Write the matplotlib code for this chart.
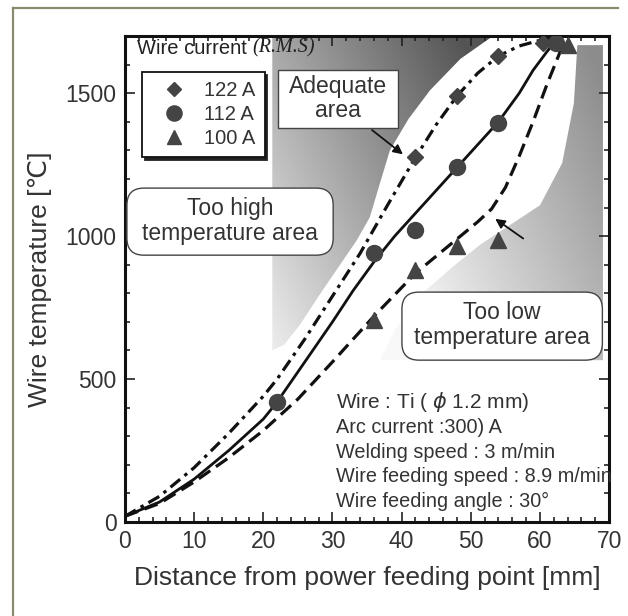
import numpy as np
import matplotlib
matplotlib.use("Agg")
import matplotlib.pyplot as plt
from matplotlib.patches import Polygon, Rectangle, FancyBboxPatch
from matplotlib.lines import Line2D

plt.rcParams['font.family'] = ['Liberation Sans', 'DejaVu Sans']
plt.rcParams['lines.scale_dashes'] = False

# ---------------- data ----------------
dist_122 = [42, 48, 54, 60.5]
temp_122 = [1275, 1490, 1630, 1675]
dist_112 = [22, 36, 42, 48, 54, 62.3]
temp_112 = [420, 940, 1020, 1240, 1395, 1675]
dist_100 = [36, 42, 48, 54, 64]
temp_100 = [705, 880, 965, 985, 1670]

# fitted curves
fit_x_122 = [0, 5, 10, 15, 20, 22, 26, 30, 34, 38, 42, 45, 48, 51, 54, 57, 60, 61.5]
fit_t_122 = [20, 90, 190, 310, 440, 500, 640, 790, 940, 1110, 1275, 1390, 1490, 1570, 1630, 1665, 1685, 1692]
fit_x_112 = [0, 5, 10, 15, 20, 22, 26, 30, 33, 36, 39, 42, 45, 48, 51, 54, 57, 59, 61, 62.5]
fit_t_112 = [20, 70, 150, 250, 360, 420, 560, 700, 810, 910, 1000, 1080, 1160, 1240, 1320, 1400, 1500, 1580, 1645, 1690]
fit_x_100 = [0, 5, 10, 15, 20, 25, 30, 36, 42, 48, 51, 53, 55, 57, 59, 61, 62.5, 63.5]
fit_t_100 = [20, 65, 140, 225, 320, 430, 560, 720, 870, 990, 1050, 1095, 1170, 1280, 1400, 1530, 1620, 1680]

# shaded areas
high_area_x = [21.3, 53.2, 48.5, 44.1, 41.0, 38.3, 36.8, 35.4, 33.5, 31.1, 28.0, 25.3, 23.0, 21.3]
high_area_t = [1700, 1700, 1620, 1510, 1410, 1300, 1180, 1066, 985, 900, 790, 690, 620, 600]
low_area_x = [65.4, 69.1, 69.1, 36.9, 39.0, 42.7, 47.7, 51.3, 55.0, 60.0, 63.2, 64.9, 65.4]
low_area_t = [1668, 1668, 566, 566, 671, 794, 899, 969, 1028, 1108, 1255, 1465, 1668]

labels = ['122 A', '112 A', '100 A']
note_lines = ['Arc current :300) A', 'Welding speed : 3 m/min',
              'Wire feeding speed : 8.9 m/min', 'Wire feeding angle : 30°']

# ---------------- figure ----------------
fig = plt.figure(figsize=(6.28, 6.16), dpi=100)
ax = fig.add_axes([0.199, 0.1526, 0.771, 0.789])
ax.set_xlim(0, 70)
ax.set_ylim(0, 1700)

# gradient backgrounds
gx = np.linspace(0, 70, 400)
gy = np.linspace(0, 1700, 400)
GX, GY = np.meshgrid(gx, gy)
u = np.clip(0.6 * (GX - 21) / 30 + 0.45 * (GY - 600) / 1100, 0, 1)
high_img = 0.93 - 0.6 * u
v = np.clip(0.55 * (GX - 45) / 24 + 0.5 * (GY - 566) / 1100, 0, 1)
low_img = 0.97 - 0.42 * v

for img, px, py in [(high_img, high_area_x, high_area_t), (low_img, low_area_x, low_area_t)]:
    im = ax.imshow(img, extent=[0, 70, 0, 1700], origin='lower', cmap='gray',
                   vmin=0, vmax=1, aspect='auto', zorder=0, interpolation='bilinear')
    poly = Polygon(list(zip(px, py)), closed=True, transform=ax.transData,
                   facecolor='none', edgecolor='none')
    ax.add_patch(poly)
    im.set_clip_path(poly)

ax.set_xlim(0, 70)
ax.set_ylim(0, 1700)

# curves
ax.plot(fit_x_122, fit_t_122, color='#111111', lw=2.3, ls=(0, (9, 4, 2.5, 4)), zorder=3)
ax.plot(fit_x_112, fit_t_112, color='#111111', lw=2.0, ls='-', zorder=3)
ax.plot(fit_x_100, fit_t_100, color='#111111', lw=2.3, ls=(0, (10, 5)), zorder=3)

mc = '#444444'
h1, = ax.plot(dist_122, temp_122, ls='none', marker='D', ms=8, color=mc, zorder=4, label=labels[0])
h2, = ax.plot(dist_112, temp_112, ls='none', marker='o', ms=11.5, color=mc, zorder=4, label=labels[1])
h3, = ax.plot(dist_100, temp_100, ls='none', marker='^', ms=11, color=mc, zorder=4, label=labels[2])

# axes style
for s in ax.spines.values():
    s.set_linewidth(2.2)
    s.set_color('#111111')
ax.set_xticks(np.arange(0, 71, 10))
ax.set_xticks(np.arange(0, 71, 2), minor=True)
ax.set_yticks([0, 500, 1000, 1500])
ax.set_yticks(np.arange(0, 1701, 100), minor=True)
ax.tick_params(which='both', direction='in', top=True, right=True, colors='#222222',
               labelcolor='#333333', labelsize=16.5, width=1.2)
ax.tick_params(which='major', length=7, pad=6)
ax.tick_params(which='minor', length=3.5)
ax.set_xlabel('Distance from power feeding point [mm]', fontsize=19, color='#333333', labelpad=9)
ax.set_ylabel('Wire temperature [℃]', fontsize=19, color='#333333', labelpad=10)

# legend title text
t1 = ax.text(0.025, 0.975, 'Wire current ', transform=ax.transAxes, fontsize=14.5,
             color='#222222', ha='left', va='center', zorder=6)
ax.annotate('(R.M.S)', xy=(1, 0), xycoords=t1, ha='left', va='bottom', fontsize=14.5,
            family='Liberation Serif', style='italic', color='#222222', zorder=6)

leg = ax.legend(handles=[h1, h2, h3], loc='upper left', bbox_to_anchor=(0.035, 0.926),
                borderaxespad=0, fontsize=14.5, frameon=True, fancybox=False,
                edgecolor='#111111', framealpha=1, handlelength=2.3, handletextpad=0.35,
                labelspacing=0.25, borderpad=0.45, markerscale=0.95,
                shadow={'color': '#222222', 'alpha': 1.0})
leg.get_frame().set_linewidth(1.3)
leg.set_zorder(7)
for tx in leg.get_texts():
    tx.set_color('#333333')

# Adequate area box
ax.add_patch(Rectangle((0.316, 0.811), 0.248, 0.119, transform=ax.transAxes,
                       facecolor='white', edgecolor='#444444', lw=1.0, zorder=6))
ax.text(0.44, 0.871, 'Adequate\narea', transform=ax.transAxes, ha='center', va='center',
        fontsize=16.5, color='#333333', linespacing=1.05, zorder=7)

# Too high box
ax.add_patch(FancyBboxPatch((0.004, 0.549), 0.426, 0.138, transform=ax.transAxes,
                            boxstyle='round,pad=0,rounding_size=0.035',
                            facecolor='white', edgecolor='#444444', lw=1.0, zorder=6))
ax.text(0.217, 0.619, 'Too high\ntemperature area', transform=ax.transAxes, ha='center',
        va='center', fontsize=16.5, color='#333333', linespacing=1.1, zorder=7)

# Too low box
ax.add_patch(FancyBboxPatch((0.572, 0.333), 0.414, 0.140, transform=ax.transAxes,
                            boxstyle='round,pad=0,rounding_size=0.035',
                            facecolor='white', edgecolor='#444444', lw=1.0, zorder=6))
ax.text(0.779, 0.405, 'Too low\ntemperature area', transform=ax.transAxes, ha='center',
        va='center', fontsize=16.5, color='#333333', linespacing=1.1, zorder=7)

# arrows
ax.annotate('', xy=(40.5, 1280), xytext=(35.4, 1377),
            arrowprops=dict(arrowstyle='-|>', color='#111111', lw=1.3, mutation_scale=14), zorder=8)
ax.annotate('', xy=(53.2, 1066), xytext=(57.9, 986),
            arrowprops=dict(arrowstyle='-|>', color='#111111', lw=1.3, mutation_scale=14), zorder=8)

# conditions text
ax.text(0.435, 0.247, 'Wire : Ti ( $\\phi$ 1.2 mm)', transform=ax.transAxes, ha='left',
        va='center', fontsize=15, color='#333333', zorder=7)
for i, line in enumerate(note_lines):
    ax.text(0.435, 0.194 - i * 0.0505, line, transform=ax.transAxes, ha='left', va='center',
            fontsize=14.3, color='#333333', zorder=7)

# outer frame
fc = '#8c8a6e'
fig.add_artist(Line2D([0.0207, 0.0207], [0.0, 0.987], transform=fig.transFigure, color=fc, lw=1.6))
fig.add_artist(Line2D([0.0207, 0.984], [0.987, 0.987], transform=fig.transFigure, color=fc, lw=1.6))

fig.savefig('out.png', dpi=100)
